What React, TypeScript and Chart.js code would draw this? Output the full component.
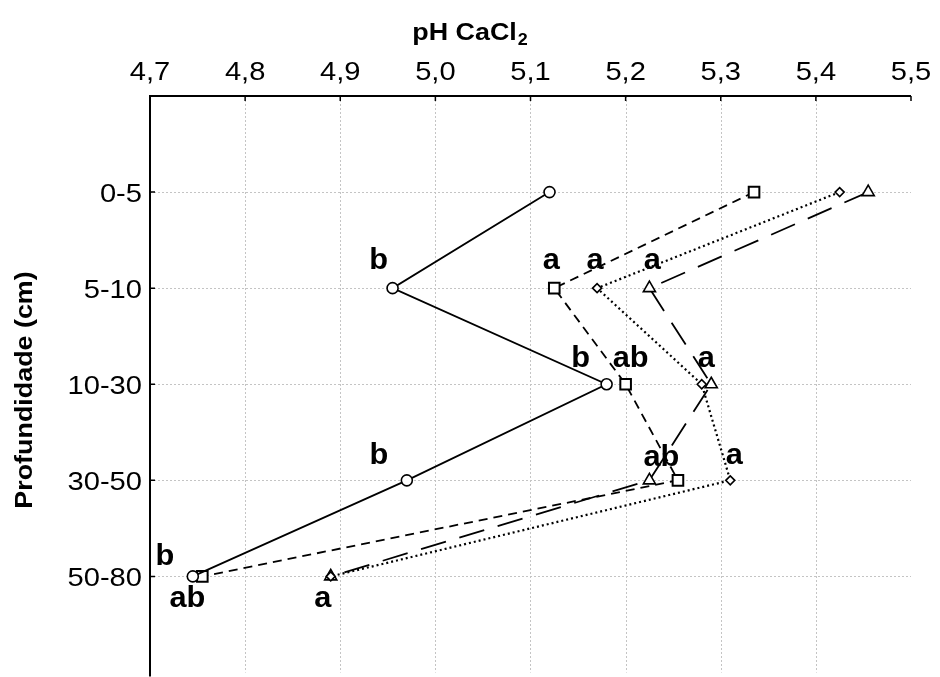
import React, { useEffect, useRef } from "react";
import { Chart, registerables } from "chart.js";

Chart.register(...registerables);

// Depth layers (cm) and the pH ticks of the top axis
const depthLabels = ["0-5", "5-10", "10-30", "30-50", "50-80"];
const phTicks = [4.7, 4.8, 4.9, 5.0, 5.1, 5.2, 5.3, 5.4, 5.5];

// pH CaCl2 per depth, one series per treatment
const phCircle = [5.12, 4.955, 5.18, 4.97, 4.745];
const phSquare = [5.335, 5.125, 5.2, 5.255, 4.755];
const phDiamond = [5.425, 5.17, 5.28, 5.31, 4.89];
const phTriangle = [5.455, 5.225, 5.29, 5.225, 4.89];

// Significance letters per depth
const lettersCircle = ["", "b", "b", "b", "b"];
const lettersSquare = ["", "a", "ab", "", "ab"];
const lettersDiamond = ["", "a", "", "a", "a"];
const lettersTriangle = ["", "a", "a", "ab", ""];

// Pixel offsets of each letter from its marker: [dx, dy to baseline]
const offsCircle: ([number, number] | null)[] = [null, [-14, -19], [-26, -17], [-28, -16], [-28, -11]];
const offsSquare: ([number, number] | null)[] = [null, [-3, -19], [5, -17], null, [-15, 31]];
const offsDiamond: ([number, number] | null)[] = [null, [-2, -19], null, [4, -16], [-8, 31]];
const offsTriangle: ([number, number] | null)[] = [null, [3, -19], [-5, -17], [12, -14], null];

const FONT = '"Liberation Sans", Arial, Helvetica, sans-serif';
const SX = 1.12; // horizontal text stretch

function drawText(
  ctx: CanvasRenderingContext2D,
  text: string,
  x: number,
  y: number,
  align: CanvasTextAlign,
  sx = SX
) {
  ctx.save();
  ctx.translate(x, y);
  ctx.scale(sx, 1);
  ctx.textAlign = align;
  ctx.textBaseline = "alphabetic";
  ctx.fillText(text, 0, 0);
  ctx.restore();
}

const gridPlugin = {
  id: "dottedGrid",
  beforeDatasetsDraw(chart: any) {
    const { ctx, chartArea: a, scales } = chart;
    const xs = scales.x;
    const ys = scales.y;
    ctx.save();
    ctx.strokeStyle = "#c4c4c4";
    ctx.lineWidth = 1;
    ctx.setLineDash([2, 2]);
    phTicks.forEach((v) => {
      if (v <= 4.70001 || v >= 5.49999) return;
      const px = Math.round(xs.getPixelForValue(v)) + 0.5;
      ctx.beginPath();
      ctx.moveTo(px, a.top);
      ctx.lineTo(px, a.bottom);
      ctx.stroke();
    });
    depthLabels.forEach((_, i) => {
      const py = Math.round(ys.getPixelForValue(i)) + 0.5;
      ctx.beginPath();
      ctx.moveTo(a.left, py);
      ctx.lineTo(a.right, py);
      ctx.stroke();
    });
    ctx.restore();
  },
};

const decorPlugin = {
  id: "decor",
  afterDraw(chart: any) {
    const { ctx, chartArea: a, scales } = chart;
    const xs = scales.x;
    const ys = scales.y;
    ctx.save();
    ctx.setLineDash([]);
    ctx.strokeStyle = "#000";
    ctx.fillStyle = "#000";

    // axis lines
    ctx.lineWidth = 2;
    ctx.beginPath();
    ctx.moveTo(a.left, a.bottom + 4);
    ctx.lineTo(a.left, a.top);
    ctx.lineTo(a.right, a.top);
    ctx.stroke();

    // inward tick marks
    ctx.lineWidth = 1.5;
    ctx.beginPath();
    phTicks.forEach((v) => {
      const px = xs.getPixelForValue(v);
      ctx.moveTo(px, a.top);
      ctx.lineTo(px, a.top + 5);
    });
    depthLabels.forEach((_, i) => {
      const py = ys.getPixelForValue(i);
      ctx.moveTo(a.left, py);
      ctx.lineTo(a.left + 5, py);
    });
    ctx.stroke();

    // tick labels
    ctx.font = `26px ${FONT}`;
    phTicks.forEach((v) => {
      const px = xs.getPixelForValue(v);
      drawText(ctx, v.toFixed(1).replace(".", ","), px, 80, "center");
    });
    depthLabels.forEach((lab, i) => {
      const py = ys.getPixelForValue(i);
      drawText(ctx, lab, 142, py + 10, "right");
    });

    // top title: pH CaCl2
    const main = "pH CaCl";
    const sub = "2";
    ctx.font = `bold 24px ${FONT}`;
    const wMain = ctx.measureText(main).width * SX;
    ctx.font = `bold 16px ${FONT}`;
    const wSub = ctx.measureText(sub).width * SX;
    const cx = 470;
    const startX = cx - (wMain + wSub + 1) / 2;
    ctx.font = `bold 24px ${FONT}`;
    drawText(ctx, main, startX, 40, "left");
    ctx.font = `bold 16px ${FONT}`;
    drawText(ctx, sub, startX + wMain + 1, 45, "left");

    // left title
    ctx.save();
    ctx.translate(32, 390);
    ctx.rotate(-Math.PI / 2);
    ctx.font = `bold 24px ${FONT}`;
    drawText(ctx, "Profundidade (cm)", 0, 0, "center");
    ctx.restore();

    // significance letters
    ctx.font = `bold 29px ${FONT}`;
    const groups: [number[], string[], ([number, number] | null)[]][] = [
      [phCircle, lettersCircle, offsCircle],
      [phSquare, lettersSquare, offsSquare],
      [phDiamond, lettersDiamond, offsDiamond],
      [phTriangle, lettersTriangle, offsTriangle],
    ];
    groups.forEach(([vals, letters, offs]) => {
      letters.forEach((t, i) => {
        const o = offs[i];
        if (!t || !o) return;
        const px = xs.getPixelForValue(vals[i]);
        const py = ys.getPixelForValue(i);
        drawText(ctx, t, px + o[0], py + o[1], "center", 1.06);
      });
    });

    ctx.restore();
  },
};

function series(vals: number[], style: any) {
  return {
    data: vals.map((v, i) => ({ x: v, y: i })),
    showLine: true,
    borderColor: "#000",
    borderWidth: 1.8,
    pointBackgroundColor: "#fff",
    pointBorderColor: "#000",
    pointBorderWidth: 1.6,
    pointHoverRadius: 0,
    tension: 0,
    clip: false as any,
    ...style,
  };
}

export default function App() {
  const ref = useRef<HTMLCanvasElement>(null);

  useEffect(() => {
    if (!ref.current) return;
    const chart = new Chart(ref.current, {
      type: "scatter",
      data: {
        datasets: [
          series(phCircle, { pointStyle: "circle", pointRadius: 5.5 }),
          series(phSquare, { pointStyle: "rect", pointRadius: 7.5, pointBorderWidth: 2, borderDash: [9, 6] }),
          series(phDiamond, { pointStyle: "rectRot", pointRadius: 4.5, borderWidth: 2.2, borderDash: [2, 3] }),
          series(phTriangle, { pointStyle: "triangle", pointRadius: 7, borderDash: [26, 14] }),
        ] as any,
      },
      options: {
        responsive: false,
        animation: false,
        devicePixelRatio: 1,
        layout: { padding: { left: 0, right: 29, top: 0, bottom: 0 } },
        plugins: {
          legend: { display: false },
          tooltip: { enabled: false },
        },
        events: [],
        scales: {
          x: {
            type: "linear",
            position: "top",
            min: 4.7,
            max: 5.5,
            ticks: { display: false, stepSize: 0.1 },
            grid: { display: false },
            border: { display: false },
            afterFit: (s: any) => {
              s.height = 96;
            },
          },
          y: {
            type: "linear",
            min: -1,
            max: 5,
            reverse: true,
            ticks: { display: false, stepSize: 1 },
            grid: { display: false },
            border: { display: false },
            afterFit: (s: any) => {
              s.width = 150;
            },
          },
        },
      } as any,
      plugins: [gridPlugin, decorPlugin],
    });
    return () => chart.destroy();
  }, []);

  return (
    <div
      style={{
        position: "fixed",
        left: 0,
        top: 0,
        width: 940,
        height: 677,
        overflow: "hidden",
        background: "#fff",
      }}
    >
      <canvas ref={ref} width={940} height={682} style={{ display: "block", width: 940, height: 682 }} />
    </div>
  );
}
